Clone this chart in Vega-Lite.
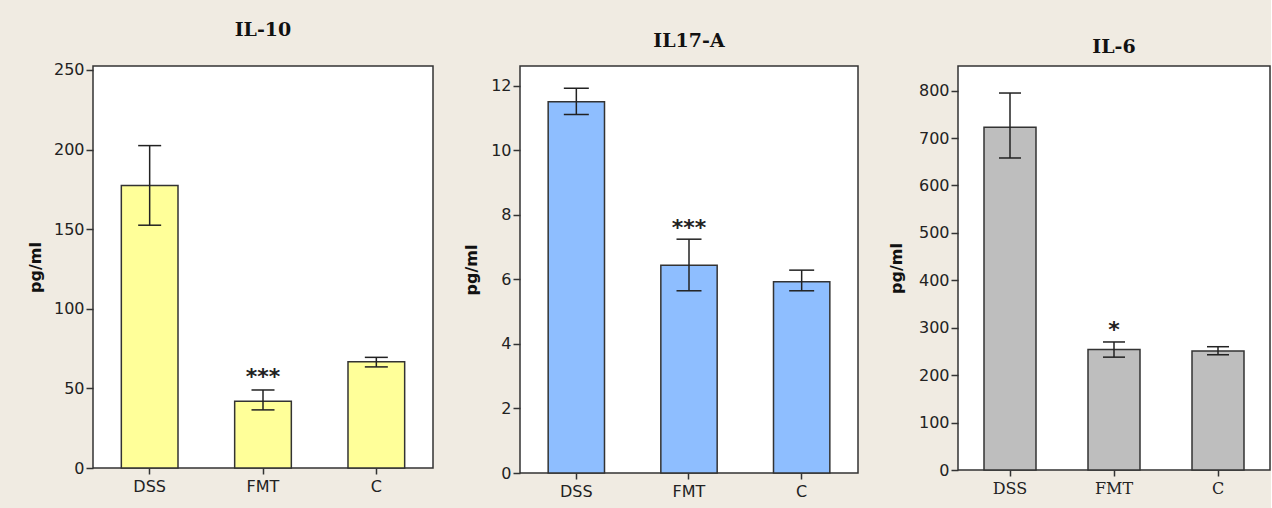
{
  "$schema": "https://vega.github.io/schema/vega-lite/v6.json",
  "background": "#F0EBE2",
  "padding": {"left": 26, "top": 20, "right": 0, "bottom": 12},
  "spacing": 28,
  "datasets": {
    "il10": [
      {"group": "DSS", "mean": 177.5, "lo": 152.5, "hi": 202.5, "star": ""},
      {"group": "FMT", "mean": 42, "lo": 36.5, "hi": 49, "star": "***"},
      {"group": "C", "mean": 66.8, "lo": 63.5, "hi": 69.5, "star": ""}
    ],
    "il17": [
      {"group": "DSS", "mean": 11.51, "lo": 11.12, "hi": 11.93, "star": ""},
      {"group": "FMT", "mean": 6.44, "lo": 5.65, "hi": 7.25, "star": "***"},
      {"group": "C", "mean": 5.93, "lo": 5.65, "hi": 6.29, "star": ""}
    ],
    "il6": [
      {"group": "DSS", "mean": 723, "lo": 658, "hi": 795, "star": ""},
      {"group": "FMT", "mean": 254, "lo": 238, "hi": 270, "star": "*"},
      {"group": "C", "mean": 251, "lo": 243, "hi": 260, "star": ""}
    ]
  },
  "config": {
    "view": {"stroke": "#333333", "strokeWidth": 1.5, "fill": "white"},
    "axis": {
      "grid": false, "domain": false,
      "labelColor": "#222222", "labelFont": "DejaVu Sans", "labelFontSize": 16,
      "tickColor": "#333333", "tickWidth": 1.5,
      "titleFont": "DejaVu Sans", "titleFontSize": 16, "titleFontWeight": "bold", "titleColor": "#111111"
    },
    "title": {"font": "DejaVu Serif", "fontSize": 19, "fontWeight": "bold", "color": "#111111"}
  },
  "hconcat": [
    {
      "width": 340, "height": 402,
      "title": {"text": "IL-10", "offset": 22},
      "data": {"name": "il10"},
      "encoding": {
        "x": {"field": "group", "type": "nominal", "sort": ["DSS", "FMT", "C"],
              "scale": {"paddingInner": 0.5, "paddingOuter": 0.25},
              "axis": {"title": null, "labelAngle": 0, "tickSize": 6, "labelPadding": 4}}
      },
      "layer": [
        {"mark": {"type": "bar", "fill": "#FFFF99", "stroke": "#333333", "strokeWidth": 1.5},
         "encoding": {"y": {"field": "mean", "type": "quantitative", "title": "pg/ml",
           "scale": {"domain": [0, 252.5], "nice": false},
           "axis": {"values": [0, 50, 100, 150, 200, 250], "tickSize": 7, "labelPadding": 2, "minExtent": 40, "maxExtent": 40, "titlePadding": 10}}}},
        {"mark": {"type": "rule", "color": "#222222", "strokeWidth": 1.5},
         "encoding": {"y": {"field": "lo", "type": "quantitative", "title": "pg/ml"}, "y2": {"field": "hi"}}},
        {"mark": {"type": "tick", "color": "#222222", "thickness": 1.5, "size": 23, "opacity": 1},
         "encoding": {"y": {"field": "lo", "type": "quantitative", "title": "pg/ml"}}},
        {"mark": {"type": "tick", "color": "#222222", "thickness": 1.5, "size": 23, "opacity": 1},
         "encoding": {"y": {"field": "hi", "type": "quantitative", "title": "pg/ml"}}},
        {"mark": {"type": "text", "font": "DejaVu Sans", "fontSize": 22, "fontWeight": "bold", "baseline": "alphabetic", "dy": -6, "color": "#222222"},
         "encoding": {"y": {"field": "hi", "type": "quantitative", "title": "pg/ml"}, "text": {"field": "star"}}}
      ]
    },
    {
      "width": 338, "height": 407,
      "title": {"text": "IL17-A", "offset": 15},
      "data": {"name": "il17"},
      "encoding": {
        "x": {"field": "group", "type": "nominal", "sort": ["DSS", "FMT", "C"],
              "scale": {"paddingInner": 0.5, "paddingOuter": 0.25},
              "axis": {"title": null, "labelAngle": 0, "tickSize": 6, "labelPadding": 4}}
      },
      "layer": [
        {"mark": {"type": "bar", "fill": "#8EBEFF", "stroke": "#333333", "strokeWidth": 1.5},
         "encoding": {"y": {"field": "mean", "type": "quantitative", "title": "pg/ml",
           "scale": {"domain": [0, 12.62], "nice": false},
           "axis": {"values": [0, 2, 4, 6, 8, 10, 12], "tickSize": 7, "labelPadding": 2, "minExtent": 31, "maxExtent": 31, "titlePadding": 10}}}},
        {"mark": {"type": "rule", "color": "#222222", "strokeWidth": 1.5},
         "encoding": {"y": {"field": "lo", "type": "quantitative", "title": "pg/ml"}, "y2": {"field": "hi"}}},
        {"mark": {"type": "tick", "color": "#222222", "thickness": 1.5, "size": 25, "opacity": 1},
         "encoding": {"y": {"field": "lo", "type": "quantitative", "title": "pg/ml"}}},
        {"mark": {"type": "tick", "color": "#222222", "thickness": 1.5, "size": 25, "opacity": 1},
         "encoding": {"y": {"field": "hi", "type": "quantitative", "title": "pg/ml"}}},
        {"mark": {"type": "text", "font": "DejaVu Sans", "fontSize": 22, "fontWeight": "bold", "baseline": "alphabetic", "dy": -4, "color": "#222222"},
         "encoding": {"y": {"field": "hi", "type": "quantitative", "title": "pg/ml"}, "text": {"field": "star"}}}
      ]
    },
    {
      "width": 312, "height": 404,
      "title": {"text": "IL-6", "offset": 9},
      "data": {"name": "il6"},
      "encoding": {
        "x": {"field": "group", "type": "nominal", "sort": ["DSS", "FMT", "C"],
              "scale": {"paddingInner": 0.5, "paddingOuter": 0.25},
              "axis": {"title": null, "labelAngle": 0, "tickSize": 6, "labelPadding": 4, "labelFont": "DejaVu Serif"}}
      },
      "layer": [
        {"mark": {"type": "bar", "fill": "#BEBEBE", "stroke": "#333333", "strokeWidth": 1.5},
         "encoding": {"y": {"field": "mean", "type": "quantitative", "title": "pg/ml",
           "scale": {"domain": [0, 852], "nice": false},
           "axis": {"values": [0, 100, 200, 300, 400, 500, 600, 700, 800], "tickSize": 7, "labelPadding": 2, "minExtent": 44, "maxExtent": 44, "titlePadding": 10}}}},
        {"mark": {"type": "rule", "color": "#222222", "strokeWidth": 1.5},
         "encoding": {"y": {"field": "lo", "type": "quantitative", "title": "pg/ml"}, "y2": {"field": "hi"}}},
        {"mark": {"type": "tick", "color": "#222222", "thickness": 1.5, "size": 22, "opacity": 1},
         "encoding": {"y": {"field": "lo", "type": "quantitative", "title": "pg/ml"}}},
        {"mark": {"type": "tick", "color": "#222222", "thickness": 1.5, "size": 22, "opacity": 1},
         "encoding": {"y": {"field": "hi", "type": "quantitative", "title": "pg/ml"}}},
        {"mark": {"type": "text", "font": "DejaVu Sans", "fontSize": 22, "fontWeight": "bold", "baseline": "alphabetic", "dy": -5, "color": "#222222"},
         "encoding": {"y": {"field": "hi", "type": "quantitative", "title": "pg/ml"}, "text": {"field": "star"}}}
      ]
    }
  ]
}
